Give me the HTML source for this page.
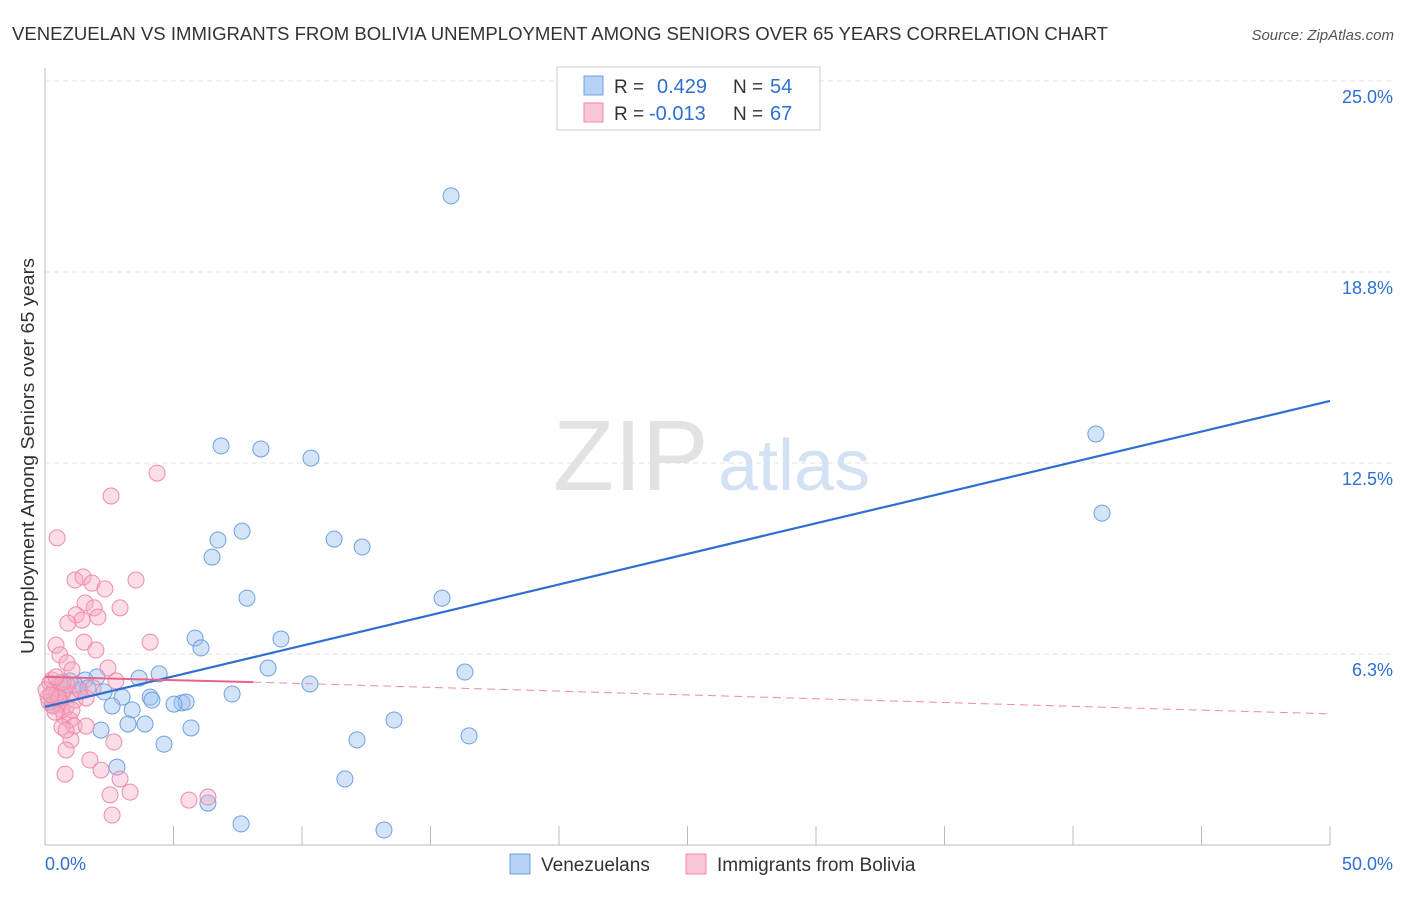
<!DOCTYPE html>
<html><head><meta charset="utf-8">
<style>
body{margin:0;background:#fff;font-family:"Liberation Sans",sans-serif;}
svg text{font-family:"Liberation Sans",sans-serif;}
</style></head>
<body>
<svg id="chart" width="1406" height="892" viewBox="0 0 1406 892" xmlns="http://www.w3.org/2000/svg">
<text x="12" y="40" font-size="18" fill="#333" textLength="1096" lengthAdjust="spacingAndGlyphs">VENEZUELAN VS IMMIGRANTS FROM BOLIVIA UNEMPLOYMENT AMONG SENIORS OVER 65 YEARS CORRELATION CHART</text>
<text x="1394" y="40" font-size="15" fill="#555" text-anchor="end" font-style="italic">Source: ZipAtlas.com</text>
<g>
<text x="553" y="490" font-size="100" fill="#e2e2e2" font-family="Liberation Serif,serif">ZIP</text>
<text x="718" y="490" font-size="72" fill="#d3e1f4">atlas</text>
</g>
<g id="grid"></g>
<g id="axes"></g>
<g id="pts"></g>
<g id="trends"></g>
<text transform="translate(34,456) rotate(-90)" font-size="18" fill="#333" text-anchor="middle" textLength="396" lengthAdjust="spacingAndGlyphs">Unemployment Among Seniors over 65 years</text>
<g>
<rect x="557" y="67" width="263" height="63" fill="#fff" stroke="#ccc"/>
<rect x="584" y="76" width="19" height="19" fill="#b6d2f5" stroke="#6fa0e0"/>
<rect x="584" y="103" width="19" height="19" fill="#f9c6d6" stroke="#f08aaa"/>
<text x="614" y="93" font-size="19" fill="#333">R =</text>
<text x="657" y="93" font-size="20" fill="#2e6fd1">0.429</text>
<text x="733" y="93" font-size="19" fill="#333">N =</text>
<text x="770" y="93" font-size="20" fill="#2e6fd1">54</text>
<text x="614" y="120" font-size="19" fill="#333">R =</text>
<text x="649" y="120" font-size="20" fill="#2e6fd1">-0.013</text>
<text x="733" y="120" font-size="19" fill="#333">N =</text>
<text x="770" y="120" font-size="20" fill="#2e6fd1">67</text>
</g>
<g>
<rect x="510" y="854" width="20" height="20" fill="#b6d2f5" stroke="#6fa0e0"/>
<text x="541" y="871" font-size="19" fill="#333">Venezuelans</text>
<rect x="686" y="854" width="20" height="20" fill="#f9c6d6" stroke="#f08aaa"/>
<text x="717" y="871" font-size="19" fill="#333">Immigrants from Bolivia</text>
</g>
</svg>
<script>
const yTicks=[6.3,12.5,18.8,25.0];
const yTickVals=[6.25,12.5,18.75,25];
const blueX=[15.80,40.89,41.13,6.85,8.40,10.35,7.67,6.73,6.50,11.25,12.34,7.86,15.45,5.84,9.18,6.07,8.68,16.34,4.44,3.66,2.02,1.56,0.97,0.58,1.36,2.30,3.00,4.09,5.33,5.49,5.02,4.16,7.28,10.31,2.61,3.39,3.23,3.89,2.18,5.68,13.58,12.14,16.50,4.63,2.80,11.67,6.34,7.63,13.19,0.39,0.27,0.66,1.17,1.67];
const blueY=[21.24,13.45,10.86,13.06,12.96,12.66,10.27,9.98,9.42,10.01,9.75,8.08,8.08,6.77,6.74,6.45,5.79,5.66,5.60,5.46,5.50,5.40,5.37,5.30,5.07,5.01,4.84,4.84,4.65,4.68,4.61,4.74,4.94,5.27,4.55,4.42,3.96,3.96,3.76,3.83,4.09,3.44,3.57,3.30,2.55,2.16,1.37,0.69,0.49,4.74,4.58,4.91,5.24,5.14];
const pinkX=[4.36,2.57,0.47,1.17,1.48,1.83,2.33,3.54,1.56,1.91,2.92,1.21,2.06,1.44,0.89,4.09,1.52,0.43,0.58,1.98,0.86,1.05,2.45,2.76,0.19,0.35,0.74,0.97,0.51,0.31,0.58,0.82,0.12,0.74,0.97,1.13,0.66,1.60,1.01,2.68,0.82,1.75,2.18,0.78,2.92,3.31,2.53,5.60,6.34,2.61,0.27,0.47,0.16,0.66,1.17,1.36,0.39,0.86,0.04,0.54,0.70,0.23,1.05,0.82,1.60,1.87,0.43];
const pinkY=[12.17,11.42,10.05,8.67,8.77,8.57,8.38,8.67,7.92,7.76,7.76,7.53,7.46,7.36,7.26,6.64,6.64,6.54,6.22,6.38,5.96,5.73,5.79,5.37,5.30,5.07,5.07,4.94,4.74,4.55,4.65,4.52,4.84,4.22,4.09,3.89,3.86,3.89,3.44,3.37,3.11,2.78,2.45,2.32,2.16,1.73,1.64,1.47,1.57,0.98,5.40,4.97,4.68,4.42,4.74,5.07,4.35,5.24,5.07,4.81,5.33,4.91,4.42,3.76,4.81,5.14,5.50];
const blueTrendX=[0,50], blueTrendY=[4.52,14.53];
const pinkTrendX=[0,8.1,50], pinkTrendY=[5.50,5.33,4.29];
const NS="http://www.w3.org/2000/svg";
const X=v=>45+v/50*1285, Y=v=>845-v/6.25*191;
function mk(t,a,p){const e=document.createElementNS(NS,t);for(const k in a)e.setAttribute(k,a[k]);p.appendChild(e);return e;}
const grid=document.getElementById('grid'),axes=document.getElementById('axes'),pts=document.getElementById('pts'),tr=document.getElementById('trends');
yTickVals.forEach((v,i)=>{
 const l=mk('line',{x1:45,x2:1394,y1:Y(v),y2:Y(v),stroke:'#e0e0e0','stroke-dasharray':'5,4'},grid);
 
 
 const t=mk('text',{x:1393,y:Y(v)+22,'font-size':18,fill:'#2e6fd1','text-anchor':'end'},axes);
 t.textContent=yTicks[i].toFixed(1)+'%';
 
 
});
const ax=mk('line',{x1:45,x2:1330,y1:845,y2:845,stroke:'#bbb'},axes);


const ay=mk('line',{x1:45,x2:45,y1:68,y2:845,stroke:'#bbb'},axes);


for(let i=0;i<=10;i++){const tk=mk('line',{x1:X(i*5),x2:X(i*5),y1:826,y2:845,stroke:'#bbb'},axes);
 
 }
[['0.0%',45,'start'],['50.0%',1393,'end']].forEach(d=>{const t=mk('text',{x:d[1],y:870,'font-size':18,fill:'#2e6fd1','text-anchor':d[2]},axes);t.textContent=d[0];
 
 });
blueX.forEach((v,i)=>{const c=mk('circle',{cx:X(v),cy:Y(blueY[i]),r:8,fill:'rgba(160,196,240,0.45)',stroke:'#6fa0e0','stroke-width':1},pts);
 
 });
pinkX.forEach((v,i)=>{const c=mk('circle',{cx:X(v),cy:Y(pinkY[i]),r:8,fill:'rgba(245,170,195,0.4)',stroke:'#f08aaa','stroke-width':1},pts);
 
 });
const bl=mk('line',{x1:X(blueTrendX[0]),y1:Y(blueTrendY[0]),x2:X(blueTrendX[1]),y2:Y(blueTrendY[1]),stroke:'#2e6fd1','stroke-width':2.2},tr);


const p1=mk('line',{x1:X(pinkTrendX[0]),y1:Y(pinkTrendY[0]),x2:X(pinkTrendX[1]),y2:Y(pinkTrendY[1]),stroke:'#e8628a','stroke-width':2},tr);


const p2=mk('line',{x1:X(pinkTrendX[1]),y1:Y(pinkTrendY[1]),x2:X(pinkTrendX[2]),y2:Y(pinkTrendY[2]),stroke:'#ec8aa8','stroke-width':1,'stroke-dasharray':'8,5'},tr);


</script>
</body></html>
